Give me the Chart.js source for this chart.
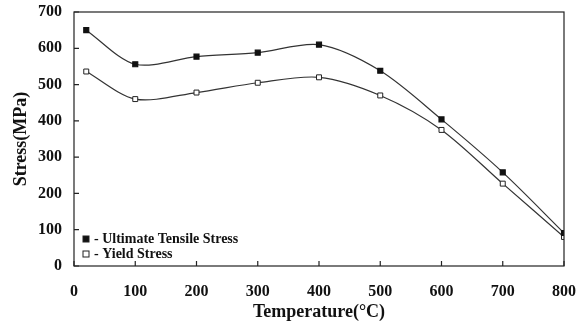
<!DOCTYPE html>
<html>
<head>
<meta charset="utf-8">
<script src="https://cdn.jsdelivr.net/npm/chart.js@4"></script>
<style>
  body { margin: 0; background: #fff; }
  #wrap { width: 581px; height: 326px; }
</style>
</head>
<body>
<div id="wrap"><canvas id="myChart"></canvas></div>
<script>
// Data
const temperatures = [20, 100, 200, 300, 400, 500, 600, 700, 800];
const ultimateStress = [650, 556, 577, 588, 610, 538, 404, 258, 91];
const yieldStress = [536, 460, 478, 505, 520, 470, 375, 227, 80];
const seriesLabels = ["Ultimate Tensile Stress", "Yield Stress"];

const font = "'Liberation Serif', 'Times New Roman', serif";

// box around the plot, inward tick marks and the legend inside the plot
const framePlugin = {
  id: "frame",
  afterDraw(chart) {
    const ctx = chart.ctx;
    const a = chart.chartArea;
    ctx.save();
    ctx.strokeStyle = "#222";
    ctx.lineWidth = 1.2;
    ctx.strokeRect(a.left, a.top, a.right - a.left, a.bottom - a.top);

    // inward ticks
    const xs = chart.scales.x;
    const ys = chart.scales.y;
    ctx.beginPath();
    xs.ticks.forEach((t) => {
      const px = xs.getPixelForValue(t.value);
      ctx.moveTo(px, a.bottom);
      ctx.lineTo(px, a.bottom - 5);
    });
    ys.ticks.forEach((t) => {
      const py = ys.getPixelForValue(t.value);
      ctx.moveTo(a.left, py);
      ctx.lineTo(a.left + 5, py);
    });
    ctx.stroke();

    // legend
    ctx.font = "bold 14px " + font;
    ctx.textBaseline = "middle";
    chart.data.datasets.forEach((ds, i) => {
      const y = a.bottom - 27 + i * 15;
      const x = a.left + 9;
      ctx.lineWidth = 1;
      ctx.strokeStyle = "#222";
      ctx.fillStyle = ds.pointBackgroundColor;
      ctx.fillRect(x, y - 3, 6, 6);
      ctx.strokeRect(x, y - 3, 6, 6);
      ctx.fillStyle = "#111";
      ctx.fillText("- " + ds.label, x + 11, y);
    });
    ctx.restore();
  },
};

const ctx = document.getElementById("myChart").getContext("2d");
new Chart(ctx, {
  type: "line",
  data: {
    datasets: [
      {
        label: seriesLabels[0],
        data: temperatures.map((t, i) => ({ x: t, y: ultimateStress[i] })),
        borderColor: "#333",
        borderWidth: 1.2,
        pointStyle: "rect",
        pointRadius: 3.5,
        pointBackgroundColor: "#111",
        pointBorderColor: "#111",
        tension: 0.3,
        fill: false,
      },
      {
        label: seriesLabels[1],
        data: temperatures.map((t, i) => ({ x: t, y: yieldStress[i] })),
        borderColor: "#333",
        borderWidth: 1.2,
        pointStyle: "rect",
        pointRadius: 3.5,
        pointBackgroundColor: "#fff",
        pointBorderColor: "#222",
        pointBorderWidth: 1,
        tension: 0.3,
        fill: false,
      },
    ],
  },
  options: {
    animation: false,
    responsive: true,
    maintainAspectRatio: false,
    layout: { padding: { left: 0, right: 17, top: 12, bottom: 0 } },
    plugins: {
      legend: { display: false },
      tooltip: { enabled: false },
    },
    scales: {
      x: {
        type: "linear",
        min: 0,
        max: 800,
        grid: { display: false, drawTicks: false },
        border: { display: false },
        afterFit: (s) => {
          s.height = 60;
          s.paddingLeft = 0;
          s.paddingRight = 0;
        },
        ticks: {
          stepSize: 100,
          color: "#111",
          padding: 16,
          font: { family: font, size: 16, weight: "bold" },
        },
        title: {
          display: true,
          text: "Temperature(°C)",
          color: "#111",
          padding: { top: 0, bottom: 3 },
          font: { family: font, size: 18, weight: "bold" },
        },
      },
      y: {
        min: 0,
        max: 700,
        grid: { display: false, drawTicks: false },
        border: { display: false },
        afterFit: (s) => {
          s.width = 74;
          s.paddingTop = 0;
          s.paddingBottom = 0;
        },
        ticks: {
          stepSize: 100,
          color: "#111",
          padding: 12,
          font: { family: font, size: 16, weight: "bold" },
        },
        title: {
          display: true,
          text: "Stress(MPa)",
          color: "#111",
          padding: { top: 11, bottom: 0 },
          font: { family: font, size: 18, weight: "bold" },
        },
      },
    },
  },
  plugins: [framePlugin],
});
</script>
</body>
</html>
